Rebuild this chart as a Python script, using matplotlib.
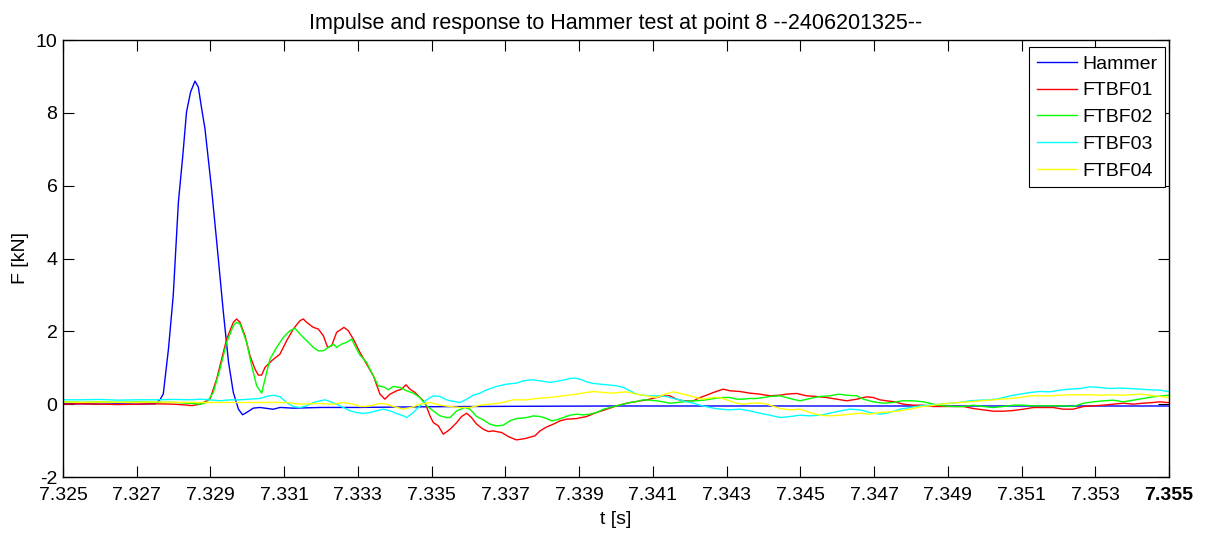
import numpy as np
import matplotlib
matplotlib.use("Agg")
import matplotlib.pyplot as plt
from matplotlib import font_manager

T0 = 7.325  # s, start of window; times below in ms after T0

hammer_ms = [0, 0.5, 1.0, 1.5, 2.0, 2.5, 2.63, 2.72, 2.86, 2.99, 3.13, 3.25, 3.35, 3.46, 3.58, 3.67,
             3.76, 3.85, 3.94, 4.03, 4.17, 4.35, 4.49, 4.62, 4.76, 4.87, 4.98, 5.16, 5.34, 5.70, 5.89,
             6.25, 7.0, 8.0, 9.0, 10.0, 12.0, 15.0, 20.0, 25.0, 30.0]
hammer_kN = [0.01, 0.01, 0.0, 0.01, 0.0, 0.01, 0.12, 0.28, 1.51, 2.98, 5.55, 6.83, 8.02, 8.57, 8.87, 8.71,
             8.12, 7.57, 6.74, 5.91, 4.45, 2.52, 1.15, 0.32, -0.14, -0.29, -0.23, -0.11, -0.09, -0.14, -0.09,
             -0.11, -0.09, -0.09, -0.08, -0.07, -0.06, -0.05, -0.05, -0.05, -0.05]

ftbf01_ms = [0, 0.5, 1.0, 1.5, 2.0, 2.5, 3.0, 3.3, 3.5, 3.72,
             3.987, 4.168, 4.439, 4.620, 4.710, 4.801, 4.936, 5.072, 5.208, 5.298, 5.388, 5.479, 5.660,
             5.886, 6.066, 6.247, 6.428, 6.518, 6.609, 6.790, 6.925, 7.061, 7.178, 7.287, 7.422, 7.621,
             7.739, 7.874, 8.055, 8.236, 8.417, 8.598, 8.733, 8.869, 9.050, 9.185, 9.303, 9.411, 9.547,
             9.682, 9.818, 9.954, 10.044, 10.180, 10.315,
             10.50, 10.68, 10.81, 10.95, 11.08, 11.22, 11.40, 11.54, 11.67, 11.90, 12.08, 12.30, 12.53,
             12.80, 12.94, 13.12, 13.30, 13.48, 13.66, 13.93, 14.20, 14.47, 14.75, 15.02, 15.29, 15.56,
             15.83, 16.10, 16.28, 16.46, 16.64, 16.83, 17.10, 17.28, 17.46, 17.64, 17.91, 18.09, 18.36,
             18.63, 18.90, 19.18,
             19.45, 19.63, 19.90, 20.17, 20.44, 20.71, 20.98, 21.26, 21.53, 21.80, 21.98, 22.16, 22.34,
             22.57, 22.79, 23.06, 23.34, 23.61, 23.88, 24.15, 24.42, 24.69, 24.96, 25.23, 25.51, 25.78,
             26.05, 26.32, 26.59, 26.86, 27.13, 27.40, 27.68, 27.95, 28.22, 28.49, 28.76, 29.03, 29.30,
             29.57, 29.75, 29.94, 30.01]
ftbf01_kN = [0.0, 0.01, 0.0, -0.01, 0.0, 0.01, 0.0, -0.02, -0.04, 0.0,
             0.138, 0.688, 1.788, 2.247, 2.339, 2.247, 1.880, 1.330, 0.963, 0.798, 0.798, 1.009, 1.192,
             1.376, 1.742, 2.063, 2.293, 2.339, 2.247, 2.109, 2.063, 1.880, 1.559, 1.605, 1.972, 2.109,
             2.018, 1.788, 1.421, 1.101, 0.780, 0.275, 0.138, 0.275, 0.367, 0.413, 0.532, 0.413, 0.321,
             0.183, 0.046, -0.321, -0.504, -0.596, -0.825,
             -0.688, -0.505, -0.340, -0.248, -0.367, -0.550, -0.688, -0.752, -0.734, -0.780, -0.890, -0.981, -0.945,
             -0.871, -0.734, -0.624, -0.550, -0.459, -0.413, -0.395, -0.340, -0.229, -0.138, -0.046, 0.027, 0.073,
             0.119, 0.183, 0.229, 0.229, 0.137, 0.092, 0.092, 0.183, 0.247, 0.321, 0.413, 0.367, 0.348,
             0.303, 0.275, 0.229,
             0.247, 0.275, 0.294, 0.229, 0.211, 0.183, 0.137, 0.092, 0.137, 0.202, 0.183, 0.119, 0.092,
             0.064, 0.0, -0.028, -0.028, -0.064, -0.064, -0.064, -0.064, -0.119, -0.156, -0.193, -0.193, -0.174,
             -0.138, -0.092, -0.092, -0.092, -0.138, -0.138, -0.064, -0.046, -0.028, 0.0, 0.027, 0.0, 0.027,
             0.046, 0.064, 0.046, 0.046]

ftbf02_ms = [0, 0.5, 1.0, 1.5, 2.0, 2.5, 3.0, 3.5, 3.72,
             3.897, 4.078, 4.258, 4.439, 4.620, 4.710, 4.801, 4.982, 5.117, 5.253, 5.388, 5.479, 5.614,
             5.795, 5.976, 6.157, 6.292, 6.428, 6.609, 6.790, 6.925, 7.061, 7.196, 7.332, 7.422, 7.558,
             7.694, 7.829, 7.965, 8.055, 8.236, 8.417, 8.552, 8.733, 8.824, 8.959, 9.140, 9.321, 9.502,
             9.682, 9.863, 10.044, 10.225, 10.406,
             10.50, 10.68, 10.90, 11.04, 11.22, 11.40, 11.58, 11.76, 11.94, 12.12, 12.30, 12.58, 12.76,
             12.94, 13.12, 13.25, 13.39, 13.57, 13.75, 13.93, 14.11, 14.29, 14.47, 14.66, 14.84, 15.02,
             15.20, 15.38, 15.56, 15.74, 15.92, 16.10, 16.28, 16.46, 16.64, 16.83, 17.01, 17.19, 17.37,
             17.55, 17.73, 17.91, 18.09, 18.27, 18.45, 18.63, 18.82, 19.00, 19.18,
             19.45, 19.72, 19.99, 20.26, 20.53, 20.80, 21.03, 21.26, 21.53, 21.71, 21.98, 22.25, 22.52,
             22.75, 23.06, 23.34, 23.61, 23.88, 24.15, 24.42, 24.69, 24.96, 25.23, 25.51, 25.78, 26.05,
             26.32, 26.59, 26.86, 27.13, 27.40, 27.68, 27.95, 28.22, 28.49, 28.76, 29.03, 29.30, 29.57,
             29.85, 30.01]
ftbf02_kN = [0.06, 0.05, 0.06, 0.05, 0.06, 0.05, 0.05, 0.02, 0.0,
             0.046, 0.321, 0.963, 1.697, 2.155, 2.247, 2.201, 1.697, 1.055, 0.505, 0.303, 0.688, 1.238,
             1.559, 1.834, 2.018, 2.082, 1.926, 1.742, 1.559, 1.467, 1.467, 1.559, 1.651, 1.559, 1.651,
             1.697, 1.788, 1.513, 1.348, 1.146, 0.780, 0.505, 0.459, 0.394, 0.486, 0.459, 0.367, 0.303,
             0.183, -0.046, -0.183, -0.321, -0.367,
             -0.367, -0.184, -0.092, -0.138, -0.340, -0.431, -0.550, -0.596, -0.578, -0.459, -0.395, -0.367, -0.321,
             -0.340, -0.395, -0.459, -0.431, -0.367, -0.303, -0.275, -0.294, -0.275, -0.229, -0.138, -0.092, -0.046,
             0.0, 0.046, 0.073, 0.119, 0.110, 0.092, 0.064, 0.027, 0.046, 0.064, 0.092, 0.092, 0.110,
             0.137, 0.165, 0.183, 0.183, 0.137, 0.137, 0.156, 0.156, 0.183, 0.211,
             0.229, 0.156, 0.092, 0.156, 0.211, 0.229, 0.275, 0.247, 0.229, 0.137, 0.064, 0.027, 0.046,
             0.092, 0.092, 0.064, 0.0, -0.046, -0.064, -0.064, -0.028, -0.064, -0.092, -0.064, -0.028, -0.028,
             -0.046, -0.046, -0.046, -0.046, -0.064, 0.027, 0.064, 0.092, 0.110, 0.064, 0.110, 0.156, 0.202,
             0.229, 0.247]

ftbf03_ms = [0, 0.5, 1.0, 1.5, 2.0, 2.5, 3.0, 3.5,
             3.716, 3.987, 4.258, 4.530, 4.801, 5.072, 5.343, 5.524, 5.705, 5.886, 6.066, 6.247, 6.428,
             6.609, 6.790, 6.970, 7.106, 7.242, 7.422, 7.603, 7.784, 7.965, 8.146, 8.326, 8.507, 8.688,
             8.869, 9.050, 9.231, 9.321, 9.502, 9.682, 9.863, 10.044, 10.225, 10.406,
             10.50, 10.77, 10.95, 11.13, 11.31, 11.49, 11.76, 12.03, 12.30, 12.49, 12.71, 12.94, 13.21,
             13.48, 13.75, 13.89, 14.02, 14.20, 14.38, 14.57, 14.84, 15.02, 15.20, 15.38, 15.56, 15.74,
             15.92, 16.19, 16.37, 16.55, 16.74, 16.92, 17.10, 17.28, 17.55, 17.82, 18.09, 18.36, 18.63,
             18.90, 19.18,
             19.45, 19.72, 19.99, 20.26, 20.53, 20.80, 21.08, 21.35, 21.62, 21.89, 22.16, 22.43, 22.70,
             22.97, 23.25, 23.52, 23.79, 24.06, 24.33, 24.60, 24.87, 25.14, 25.41, 25.69, 25.96, 26.23,
             26.50, 26.77, 27.04, 27.31, 27.59, 27.86, 28.13, 28.40, 28.67, 28.94, 29.21, 29.48, 29.75,
             30.01]
ftbf03_kN = [0.12, 0.12, 0.13, 0.11, 0.12, 0.12, 0.13, 0.12,
             0.138, 0.119, 0.092, 0.119, 0.119, 0.138, 0.156, 0.211, 0.248, 0.202, 0.046, -0.064, -0.092,
             -0.046, 0.046, 0.092, 0.119, 0.073, 0.0, -0.092, -0.183, -0.229, -0.257, -0.229, -0.183, -0.138,
             -0.183, -0.257, -0.321, -0.367, -0.229, -0.046, 0.119, 0.229, 0.211, 0.119,
             0.092, 0.046, 0.137, 0.247, 0.303, 0.394, 0.486, 0.550, 0.578, 0.642, 0.669, 0.642, 0.596,
             0.642, 0.706, 0.715, 0.688, 0.614, 0.569, 0.550, 0.523, 0.504, 0.458, 0.367, 0.275, 0.247,
             0.229, 0.229, 0.211, 0.156, 0.119, 0.064, 0.027, -0.028, -0.092, -0.138, -0.156, -0.138, -0.184,
             -0.248, -0.303,
             -0.367, -0.340, -0.303, -0.321, -0.303, -0.248, -0.184, -0.138, -0.156, -0.229, -0.275, -0.229, -0.138,
             -0.092, -0.046, -0.028, 0.0, 0.027, 0.046, 0.092, 0.110, 0.119, 0.156, 0.229, 0.275, 0.321,
             0.348, 0.339, 0.385, 0.413, 0.431, 0.477, 0.458, 0.431, 0.440, 0.431, 0.413, 0.394, 0.385,
             0.339]

ftbf04_ms = [0, 0.5, 1.0, 1.5, 2.0, 2.5, 3.0, 3.5,
             3.716, 6.066, 6.428, 6.88, 7.332, 7.603, 7.874, 8.055, 8.236, 8.417, 8.598, 8.778, 8.959,
             9.231, 9.502, 9.682, 9.954, 10.225,
             10.50, 10.77, 11.04, 11.31, 11.58, 11.85, 12.21, 12.58, 12.85, 13.21, 13.57, 13.93, 14.20,
             14.38, 14.66, 14.93, 15.29, 15.56, 15.83, 16.10, 16.33, 16.55, 16.83, 17.10, 17.37, 17.64,
             17.82, 18.00, 18.27, 18.45, 18.72, 18.99, 19.18,
             19.45, 19.72, 19.99, 20.26, 20.53, 20.80, 21.08, 21.35, 21.62, 21.89, 22.16, 22.43, 22.70,
             22.97, 23.25, 23.52, 23.79, 24.06, 24.33, 24.60, 24.87, 25.14, 25.41, 25.69, 25.96, 26.23,
             26.50, 26.77, 27.04, 27.31, 27.59, 27.86, 28.13, 28.40, 28.67, 28.94, 29.21, 29.48, 29.75,
             30.01]
ftbf04_kN = [0.06, 0.05, 0.06, 0.05, 0.05, 0.06, 0.05, 0.05,
             0.046, 0.046, 0.0, 0.02, 0.0, 0.046, 0.0, -0.064, -0.064, -0.028, 0.018, 0.0, -0.064,
             -0.138, -0.073, 0.0, 0.046, -0.028,
             -0.064, -0.092, -0.092, -0.028, 0.0, 0.027, 0.119, 0.119, 0.156, 0.183, 0.229, 0.275, 0.321,
             0.348, 0.321, 0.303, 0.339, 0.275, 0.229, 0.183, 0.275, 0.339, 0.275, 0.202, 0.137, 0.183,
             0.183, 0.119, 0.027, 0.0, 0.027, 0.027, -0.028,
             -0.119, -0.156, -0.138, -0.229, -0.303, -0.321, -0.303, -0.275, -0.248, -0.275, -0.229, -0.211, -0.184,
             -0.138, -0.074, -0.046, 0.0, 0.027, 0.046, 0.064, 0.092, 0.110, 0.137, 0.156, 0.183, 0.229,
             0.229, 0.229, 0.247, 0.257, 0.257, 0.257, 0.247, 0.257, 0.247, 0.257, 0.275, 0.247, 0.211,
             0.183]

series_names = ["Hammer", "FTBF01", "FTBF02", "FTBF03", "FTBF04"]
series_colors = ["#0000ff", "#ff0000", "#00ff00", "#00ffff", "#ffff00"]
series_data = [(hammer_ms, hammer_kN), (ftbf01_ms, ftbf01_kN), (ftbf02_ms, ftbf02_kN),
               (ftbf03_ms, ftbf03_kN), (ftbf04_ms, ftbf04_kN)]

x_ticks = [7.325, 7.327, 7.329, 7.331, 7.333, 7.335, 7.337, 7.339, 7.341, 7.343,
           7.345, 7.347, 7.349, 7.351, 7.353, 7.355]
y_ticks = [-2, 0, 2, 4, 6, 8, 10]

title_text = "Impulse and response to Hammer test at point 8 --2406201325--"

available = {f.name for f in font_manager.fontManager.ttflist}
base_font = "Liberation Sans" if "Liberation Sans" in available else "DejaVu Sans"
plt.rcParams["font.family"] = [base_font, "DejaVu Sans"]

FS = 14

fig = plt.figure(figsize=(12.06, 5.33), dpi=100)
ax = fig.add_axes([63 / 1206, 1 - 477 / 533, (1169 - 63) / 1206, (477 - 40) / 533])

for (ms, kn), name, col in zip(series_data, series_names, series_colors):
    t = T0 + np.asarray(ms) / 1000.0
    ax.plot(t, kn, color=col, lw=1.0, label=name)

ax.set_xlim(7.325, 7.355)
ax.set_ylim(-2, 10)
ax.set_xticks(x_ticks)
ax.set_xticklabels([f"{v:.3f}" for v in x_ticks])
ax.set_yticks(y_ticks)
ax.set_yticklabels([str(v) for v in y_ticks])
ax.get_xticklabels()[-1].set_fontweight("bold")
ax.tick_params(direction="in", length=8, width=0.8, top=True, right=True,
               labelsize=FS, colors="black")
ax.tick_params(axis="x", pad=7)
ax.tick_params(axis="y", pad=4)
for s in ax.spines.values():
    s.set_linewidth(1.0)
    s.set_color("black")

ax.set_xlabel("t [s]", fontsize=FS, labelpad=5)
ax.set_ylabel("F [kN]", fontsize=FS, labelpad=5)
ax.set_title(title_text, fontsize=15.5, pad=8)

leg = ax.legend(loc="upper right", bbox_to_anchor=(0.9964, 0.9833), borderaxespad=0,
                fancybox=False, framealpha=1, edgecolor="black", fontsize=FS,
                handlelength=2.06, handletextpad=0.26, labelspacing=0.47, borderpad=0.4)
leg.get_frame().set_linewidth(0.8)

fig.savefig("out.png", dpi=100)
